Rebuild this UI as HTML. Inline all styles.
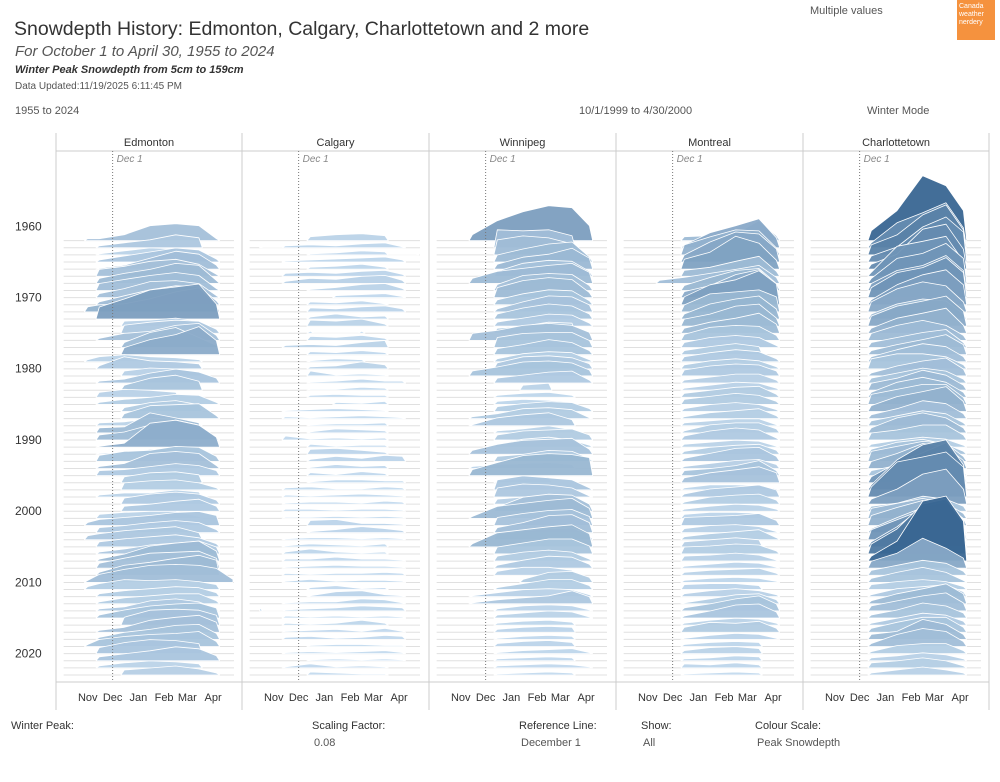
<!DOCTYPE html>
<html><head><meta charset="utf-8">
<style>
body{margin:0;background:#fff;font-family:"Liberation Sans",sans-serif;color:#333}
#wrap{position:relative;width:1000px;height:782px;overflow:hidden}
.t{position:absolute;white-space:nowrap}
</style></head>
<body><div id="wrap">
<div class="t" style="left:14px;top:18px;font-size:19.5px;color:#333">Snowdepth History: Edmonton, Calgary, Charlottetown and 2 more</div>
<div class="t" style="left:15px;top:43px;font-size:15px;font-style:italic;color:#555">For October 1 to April 30, 1955 to 2024</div>
<div class="t" style="left:15px;top:64px;font-size:11px;font-style:italic;font-weight:bold;color:#333">Winter Peak Snowdepth from 5cm to 159cm</div>
<div class="t" style="left:15px;top:81px;font-size:10px;color:#555">Data Updated:11/19/2025 6:11:45 PM</div>
<div class="t" style="left:810px;top:5px;font-size:11px;color:#555">Multiple values</div>
<div class="t" style="left:957px;top:0;width:38px;height:40px;background:#f5923e;color:#fff;font-size:7px;line-height:8px;padding:3px 2px;box-sizing:border-box;white-space:normal">Canada weather nerdery</div>
<div class="t" style="left:15px;top:105px;font-size:11px;color:#555">1955 to 2024</div>
<div class="t" style="left:579px;top:105px;font-size:11px;color:#555">10/1/1999 to 4/30/2000</div>
<div class="t" style="left:867px;top:105px;font-size:11px;color:#555">Winter Mode</div>

<svg id="chart" width="1000" height="782" style="position:absolute;left:0;top:0"></svg>

<div class="t" style="left:11px;top:720px;font-size:11px;color:#333">Winter Peak:</div>
<div class="t" style="left:312px;top:720px;font-size:11px;color:#333">Scaling Factor:</div>
<div class="t" style="left:314px;top:737px;font-size:11px;color:#555">0.08</div>
<div class="t" style="left:519px;top:720px;font-size:11px;color:#333">Reference Line:</div>
<div class="t" style="left:521px;top:737px;font-size:11px;color:#555">December 1</div>
<div class="t" style="left:641px;top:720px;font-size:11px;color:#333">Show:</div>
<div class="t" style="left:643px;top:737px;font-size:11px;color:#555">All</div>
<div class="t" style="left:755px;top:720px;font-size:11px;color:#333">Colour Scale:</div>
<div class="t" style="left:757px;top:737px;font-size:11px;color:#555">Peak Snowdepth</div>
</div>
<script>
// ---- data ----
const cities = ["Edmonton","Calgary","Winnipeg","Montreal","Charlottetown"];
const firstYear = 1963;
const knotDays = [14,31,45,75,106,137,165,186,206]; // days since Oct 1
const yearTicks = [1960,1970,1980,1990,2000,2010,2020];
const monthLabels = ["Nov","Dec","Jan","Feb","Mar","Apr"];
const monthDays = [31,61,92,123,151,182];
const edmonton = [
"0 4 4 12 30 34 30 4 0","0 0 4 10 16 26 20 0 0","0 0 2 8 14 12 0 0 0","0 0 4 12 20 28 24 6 0","0 0 2 8 22 36 30 8 0",
"0 0 14 20 30 34 24 4 0","0 0 10 20 28 40 36 6 0","0 0 14 22 30 36 30 4 0","0 0 8 18 32 34 28 4 0","0 0 6 18 30 38 36 8 0",
"0 10 14 16 26 40 48 14 0","0 0 24 40 58 64 70 30 0","0 0 0 10 12 16 10 0 0","0 0 0 16 22 26 24 8 0","0 0 4 14 18 30 34 10 0",
"0 0 0 10 30 40 20 4 0","0 0 0 14 30 40 56 28 0","0 4 10 14 10 8 4 0 0","0 0 6 24 16 14 10 0 0","0 0 0 10 16 14 8 0 0",
"0 0 4 8 20 28 22 10 0","0 0 0 10 24 30 18 0 0","0 0 10 16 14 10 0 0 0","0 0 4 10 14 20 18 4 0","0 0 0 8 18 22 14 0 0",
"0 0 0 10 26 28 30 6 0","0 0 6 8 14 14 4 0 0","0 0 10 12 40 30 20 0 0","0 0 10 16 30 40 30 4 0","0 0 2 8 48 54 44 20 0",
"0 0 2 4 10 12 8 0 0","0 0 12 20 22 30 28 10 0","0 0 4 10 30 34 30 6 0","0 0 10 12 18 24 20 10 0","0 0 0 12 20 22 16 0 0",
"0 0 0 14 18 20 14 4 0","0 0 4 8 8 14 10 0 0","0 0 0 12 20 24 20 8 0","0 0 0 10 14 20 24 10 0","0 0 8 12 14 14 4 0 0",
"0 6 12 16 20 26 28 20 0","0 0 10 14 20 24 20 6 0","0 8 12 18 22 26 14 0 0","0 0 10 16 20 24 18 6 0","0 0 4 10 18 22 26 14 0",
"0 0 4 14 30 36 40 20 0","0 0 10 20 30 32 34 20 0","0 0 6 20 26 34 40 30 0","0 4 16 26 34 36 34 28 6","0 6 12 20 18 20 16 10 0",
"0 0 6 12 16 20 18 8 0","0 0 4 12 16 20 20 6 0","0 0 4 8 20 24 18 4 0","0 0 6 16 24 28 30 20 0","0 0 0 16 30 32 30 20 0",
"0 0 4 10 24 30 34 20 0","0 0 4 14 20 28 30 12 0","0 4 14 20 24 26 30 10 0","0 0 12 22 28 26 20 0 0","0 0 8 14 20 28 24 10 0",
"0 0 4 10 14 12 8 0 0","0 0 0 10 14 18 12 4 0"];
const calgary = [
"0 0 0 8 12 14 10 0 0","2 0 4 6 4 8 10 2 0","0 0 0 2 4 8 6 0 2","0 0 2 4 6 8 10 4 0","0 0 0 4 6 10 4 0 0",
"0 0 6 8 6 10 12 4 0","0 0 4 10 8 14 16 6 0","0 0 0 2 6 12 14 4 0","0 0 0 0 4 6 8 2 0","0 0 0 6 4 8 2 0 0",
"0 0 0 8 6 10 12 6 0","0 0 0 4 10 4 6 0 0","0 0 0 12 10 14 4 0 0","0 0 0 4 0 4 0 0 0","0 0 0 8 6 10 4 0 0",
"0 0 4 6 4 10 14 0 0","0 0 0 6 4 8 4 0 0","0 0 0 2 6 4 0 0 0","0 0 0 4 6 14 8 0 0","0 0 0 10 2 4 2 0 0",
"0 0 0 2 4 8 4 4 0","0 0 0 2 2 6 4 0 0","0 0 0 4 6 4 4 0 0","0 0 0 0 4 2 6 0 0","0 0 2 4 6 4 2 0 0",
"0 0 4 2 4 6 4 2 0","0 0 0 2 4 4 6 0 0","0 0 0 2 8 6 4 0 0","0 0 8 2 4 2 4 0 0","0 0 0 6 2 4 4 0 0",
"0 0 0 10 12 8 4 0 0","0 0 0 4 10 6 12 10 0","0 0 0 2 8 4 6 0 0","0 0 0 6 2 8 4 0 0","0 0 0 2 6 6 4 4 0",
"0 0 4 6 2 2 6 4 0","0 0 4 2 4 6 4 2 0","0 0 2 4 4 2 6 4 0","0 0 4 4 2 4 4 2 0","0 0 2 2 4 2 4 2 0",
"0 0 0 10 12 4 4 2 0","0 0 0 2 6 12 8 4 0","0 0 2 4 4 2 4 2 0","0 0 2 6 4 2 6 0 0","0 0 4 10 4 2 4 0 0",
"0 0 4 4 8 4 4 2 0","0 0 2 4 6 4 4 2 0","0 0 4 2 4 4 6 4 0","0 0 2 6 2 4 4 2 0","0 0 0 4 8 2 4 0 0",
"0 0 0 2 10 12 4 2 0","0 0 2 4 4 10 8 2 0","6 0 2 4 6 10 8 6 0","0 0 4 2 4 2 4 2 0","0 0 4 2 4 10 4 0 0",
"0 0 2 4 6 2 8 2 0","0 0 4 6 2 4 8 6 0","0 0 0 2 4 4 2 2 0","0 0 2 4 2 4 6 2 0","0 0 0 2 4 2 4 2 0",
"0 0 2 8 2 4 2 0 0","0 0 0 6 4 2 2 0 0"];
const winnipeg = [
"0 0 12 40 58 70 66 30 0","0 0 0 36 34 36 24 0 0","0 0 0 30 38 34 22 0 0","0 0 0 14 26 36 40 10 0","0 0 0 10 24 30 42 22 0",
"0 0 0 10 26 32 30 10 0","0 0 10 24 30 36 40 22 0","0 0 0 12 30 34 32 10 0","0 0 0 20 34 40 36 10 0","0 0 0 10 22 30 28 8 0",
"0 0 0 6 20 32 30 14 0","0 0 0 10 22 30 26 10 0","0 0 0 8 16 24 22 6 0","0 0 0 10 14 22 20 0 0","0 0 14 20 30 34 30 16 0",
"0 0 0 20 28 30 30 14 0","0 0 0 12 20 30 24 8 0","0 0 0 6 16 20 18 4 0","0 0 0 12 24 26 22 10 0","0 0 10 18 28 30 26 12 0",
"0 0 0 10 16 22 24 6 0","0 0 0 0 10 14 0 0 0","0 0 0 4 8 10 4 0 0","0 0 0 6 10 8 4 0 0","0 0 0 10 16 20 18 6 0",
"0 0 4 10 20 22 18 2 0","0 0 2 16 22 26 12 0 0","0 0 0 4 8 14 6 0 0","0 0 0 10 18 20 22 10 0","0 0 0 6 16 20 14 4 0",
"0 0 8 20 28 30 32 10 0","0 0 0 10 14 22 20 6 0","0 0 4 8 10 12 8 0 0","0 0 12 26 40 44 42 36 0","0 0 0 4 8 12 0 0 0",
"0 0 0 20 28 24 20 4 0","0 0 0 18 26 24 18 2 0","0 0 0 10 14 18 10 0 0","0 0 0 8 28 34 32 14 0","0 0 4 24 30 36 40 20 0",
"0 0 0 16 24 30 32 18 0","0 0 0 10 20 34 36 20 0","0 0 0 12 18 22 24 10 0","0 0 6 28 34 40 44 26 0","0 0 0 14 22 30 30 16 0",
"0 0 0 10 18 22 18 4 0","0 0 0 6 16 24 22 8 0","0 0 0 8 16 16 10 0 0","0 0 0 0 6 20 22 10 0","0 0 0 4 12 20 20 8 0",
"0 0 2 8 14 16 14 4 0","0 0 2 8 12 16 26 14 0","0 0 0 4 10 12 10 2 0","0 0 0 6 10 14 12 2 0","0 0 0 4 8 10 6 0 0",
"0 0 0 6 10 12 10 0 0","0 0 0 2 6 8 6 0 0","0 0 0 6 10 12 8 0 0","0 0 0 2 6 8 10 2 0","0 0 0 4 6 8 6 0 0",
"0 0 0 4 6 8 6 2 0","0 0 0 2 4 6 4 0 0"];
const montreal = [
"0 0 0 8 10 14 40 10 0","0 0 0 6 30 44 58 20 0","0 0 0 20 36 50 48 14 0","0 0 0 14 40 60 56 26 0","0 0 0 20 34 66 52 18 0",
"0 0 0 12 18 30 40 10 0","0 0 6 12 20 28 36 12 0","0 0 0 10 26 40 44 14 0","0 0 0 12 24 46 56 24 0","0 0 0 16 40 50 68 42 0",
"0 0 0 14 36 40 44 30 0","0 0 0 10 30 40 46 20 0","0 0 0 14 24 40 44 16 0","0 0 0 10 22 30 40 18 0","0 0 0 12 26 30 28 10 0",
"0 0 0 10 20 24 20 4 0","0 0 0 8 16 22 16 0 0","0 0 0 10 18 24 20 6 0","0 0 0 8 16 20 16 4 0","0 0 0 12 20 24 22 10 0",
"0 0 0 6 12 18 18 6 0","0 0 0 4 10 16 14 4 0","0 0 0 8 14 20 22 6 0","0 0 0 10 16 22 18 6 0","0 0 0 6 14 18 14 4 0",
"0 0 0 4 12 16 20 6 0","0 0 0 6 10 14 14 2 0","0 0 0 4 16 20 20 8 0","0 0 0 8 18 24 20 4 0","0 0 0 6 10 14 12 2 0",
"0 0 0 6 14 18 20 8 0","0 0 0 6 16 26 28 10 0","0 0 0 4 10 16 18 8 0","0 0 0 10 14 20 30 10 0","0 0 0 10 20 26 32 20 0",
"0 0 0 4 10 10 8 2 0","0 0 0 6 16 20 24 14 0","0 0 0 4 14 18 20 8 0","0 0 0 4 10 14 12 4 0","0 0 0 8 12 12 10 0 0",
"0 0 0 16 18 20 24 10 0","0 0 0 8 14 16 12 2 0","0 0 0 6 12 16 20 4 0","0 0 0 10 14 18 14 0 0","0 0 0 14 16 20 18 6 0",
"0 0 0 10 12 16 12 2 0","0 0 0 4 8 12 10 2 0","0 0 0 6 10 12 14 4 0","0 0 0 4 8 10 8 2 0","0 0 0 10 12 12 8 0 0",
"0 0 0 6 12 16 12 4 0","0 0 0 2 10 18 20 8 0","0 0 0 6 14 24 30 14 0","0 0 0 4 14 26 28 12 0","0 0 0 4 10 14 12 4 0",
"0 0 0 10 20 18 22 8 0","0 0 0 2 8 12 10 2 0","0 0 0 4 8 10 8 0 0","0 0 0 6 12 14 10 0 0","0 0 0 4 6 10 8 0 0",
"0 0 0 8 6 10 6 0 0","0 0 0 2 4 6 4 0 0"];
const charlottetown = [
"0 0 0 20 60 130 110 60 0","0 0 0 10 50 70 90 40 0","0 0 0 20 40 80 100 50 0","0 0 0 12 30 70 90 60 0","0 0 0 10 30 80 90 40 0",
"0 0 0 8 60 70 80 30 0","0 0 0 10 50 60 80 50 0","0 0 0 14 40 50 70 40 0","0 0 0 20 50 60 80 50 0","0 0 0 10 40 60 70 40 0",
"0 0 0 20 46 60 52 20 0","0 0 0 10 30 40 36 10 0","0 0 0 20 40 50 60 30 0","0 0 0 10 30 40 50 16 0","0 0 0 14 30 40 30 10 0",
"0 0 0 10 20 30 36 10 0","0 0 0 8 20 30 40 20 0","0 0 0 10 24 36 30 10 0","0 0 0 20 30 30 24 8 0","0 0 0 6 20 30 36 14 0",
"0 0 0 10 20 30 24 8 0","0 0 0 14 24 40 30 10 0","0 0 0 10 30 40 30 10 0","0 0 0 20 30 40 40 14 0","0 0 0 12 30 40 50 20 0",
"0 0 0 8 20 36 30 10 0","0 0 0 10 20 30 24 6 0","0 0 0 10 30 40 30 10 0","0 0 0 14 20 30 30 10 0","0 0 0 6 14 20 16 4 0",
"0 0 0 10 24 30 20 6 0","0 0 0 20 30 40 36 10 0","0 0 0 14 30 50 44 16 0","0 0 0 10 20 30 26 10 0","0 0 0 12 40 60 80 30 0",
"0 0 0 10 60 90 100 50 0","0 0 0 20 70 80 90 60 0","0 0 0 10 30 60 70 30 0","0 0 0 10 16 30 24 10 0","0 0 0 20 30 40 30 10 0",
"0 0 0 20 36 50 40 14 0","0 0 0 8 30 50 40 10 0","0 0 0 20 40 60 80 40 0","0 0 0 10 40 80 90 50 0","0 0 0 20 50 100 110 60 0",
"0 0 0 10 40 120 130 80 0","0 0 0 14 30 60 40 20 0","0 0 0 10 20 30 24 8 0","0 0 0 8 20 30 20 4 0","0 0 0 10 16 20 16 6 0",
"0 0 0 4 16 20 24 10 0","0 0 0 6 20 30 40 20 0","0 0 0 10 20 30 36 16 0","0 0 0 6 16 30 24 10 0","0 0 0 4 14 24 20 8 0",
"0 0 0 8 20 30 30 10 0","0 0 0 10 16 40 30 10 0","0 0 0 6 24 36 30 10 0","0 0 0 4 16 20 20 6 0","0 0 0 6 10 16 12 4 0",
"0 0 0 10 14 20 14 4 0","0 0 0 4 10 16 10 4 0"];
const cityData = [edmonton,calgary,winnipeg,montreal,charlottetown];

// ---- layout ----
const NS="http://www.w3.org/2000/svg";
const svg=document.getElementById('chart');
const panelX=[56,242,429,616,803,989];
const top0=133, hdrB=151, plotB=682, axB=710;
const lastBase=675, rowH=7.12, cmPx=0.5;
const xOf=(p,d)=>panelX[p]+6+d*0.83;
const yBase=y=>lastBase-(2024-y)*rowH;
function mk(tag,attrs,parent){const e=document.createElementNS(NS,tag);for(const k in attrs)e.setAttribute(k,attrs[k]);(parent||svg).appendChild(e);return e;}
function lerp(a,b,t){return Math.round(a+(b-a)*t);}
function colorFor(peak){const t=Math.min(1,Math.max(0,(peak-5)/140));return `rgb(${lerp(196,40,t)},${lerp(219,88,t)},${lerp(239,135,t)})`;}

let fr=mk('line',{x1:56,y1:hdrB,x2:989,y2:hdrB,stroke:'#ccc'});


fr=mk('line',{x1:56,y1:plotB,x2:989,y2:plotB,stroke:'#ccc'});


for(let i=0;i<panelX.length;i++){
  const l=mk('line',{x1:panelX[i],y1:top0,x2:panelX[i],y2:axB,stroke:'#ccc'});
  
  
}
yearTicks.forEach(y=>{
  const t=mk('text',{x:15,y:yBase(y)+7+4,'font-size':12,fill:'#333'});
  t.textContent=y;
  
  
});

cities.forEach((c,p)=>{
  const g=mk('g',{});
  
  
  const h=mk('text',{x:(panelX[p]+panelX[p+1])/2,y:146,'font-size':11,fill:'#333','text-anchor':'middle'},g);
  h.textContent=c;
  
  
  cityData[p].forEach((row,i)=>{
    const yb=yBase(firstYear+i);
    const bl=mk('line',{x1:xOf(p,2),y1:yb,x2:xOf(p,212)-4,y2:yb,stroke:'#e0e0e0','stroke-width':1},g);
    
    
  });
  cityData[p].forEach((row,i)=>{
    const vals=row.split(' ').map(Number);
    const yb=yBase(firstYear+i);
    const peak=Math.max(...vals);
    if(peak<=0)return;
    const pts=[];
    const n=vals.length;
    vals.forEach((v,k)=>{
      if(v===0){
        if(k>0&&vals[k-1]>0)pts.push([knotDays[k-1]+4,0]);
        if(k+1<n&&vals[k+1]>0)pts.push([knotDays[k+1]-4,0]);
      } else pts.push([knotDays[k],v]);
    });
    let d=`M${xOf(p,pts[0][0]).toFixed(1)},${yb}`;
    pts.forEach(q=>{d+=` L${xOf(p,q[0]).toFixed(1)},${(yb-q[1]*cmPx).toFixed(1)}`;});
    d+=` L${xOf(p,pts[pts.length-1][0]).toFixed(1)},${yb} Z`;
    const r=mk('path',{d:d,fill:colorFor(peak),'fill-opacity':0.95,stroke:'#fff','stroke-width':0.8,'stroke-linejoin':'round'},g);
    
    
  });
  const xr=xOf(p,61);
  const ref=mk('line',{x1:xr,y1:hdrB,x2:xr,y2:plotB,stroke:'#777','stroke-width':1,'stroke-dasharray':'1,2'},g);
  
  
  const rl=mk('text',{x:xr+4,y:162,'font-size':10,'font-style':'italic',fill:'#888'},g);
  rl.textContent='Dec 1';
  
  
  monthLabels.forEach((m,k)=>{
    const t=mk('text',{x:xOf(p,monthDays[k]),y:701,'font-size':11,fill:'#333','text-anchor':'middle'},g);
    t.textContent=m;
    
    
  });
});
</script>
</body></html>
